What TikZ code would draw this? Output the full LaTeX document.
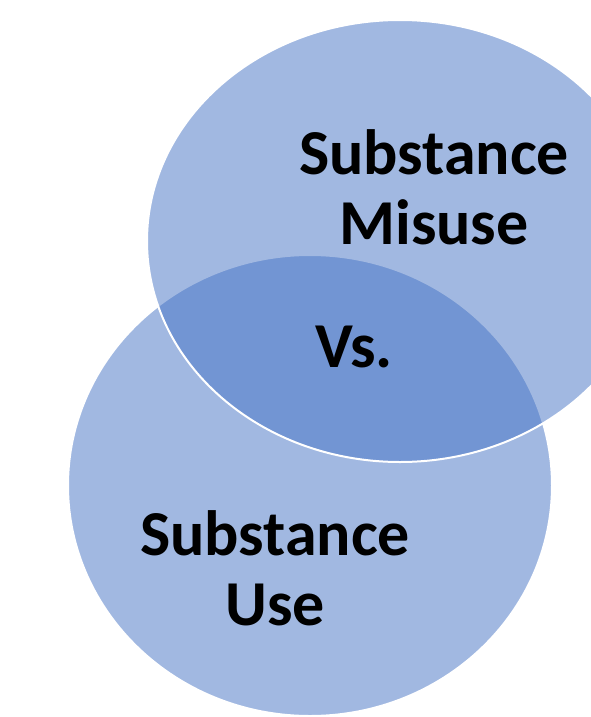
\documentclass[tikz,border=0pt]{standalone}
\usepackage{fontspec}
\setmainfont{Carlito}
\usepackage{tikz}
\usetikzlibrary{positioning}
\definecolor{vennblue}{HTML}{4472C4}

\begin{document}
\begin{tikzpicture}[x=1pt,y=-1pt]
\tikzset{setfill/.style={fill=vennblue,fill opacity=0.5,draw=white,line width=2pt}}
\tikzset{setlabel/.style={font=\fontsize{64}{70}\selectfont\bfseries,align=center,inner sep=0pt,text=black}}
  \clip (0,0) rectangle (591,717);
  \useasboundingbox (0,0) rectangle (591,717);
  % the two sets
  \path[setfill] (310,485.5) ellipse [x radius=242,y radius=230.5];
  \path[setfill] (400,241) ellipse [x radius=253,y radius=221];
  % labels
  \node[setlabel,anchor=north] (misuse) at (434,129) {Substance\\Misuse};
  \node[setlabel,anchor=north] (use)    at (275,510) {Substance\\Use};
  \node[setlabel,anchor=base]  (vs)     at (354,367) {Vs.};
\end{tikzpicture}
\end{document}
